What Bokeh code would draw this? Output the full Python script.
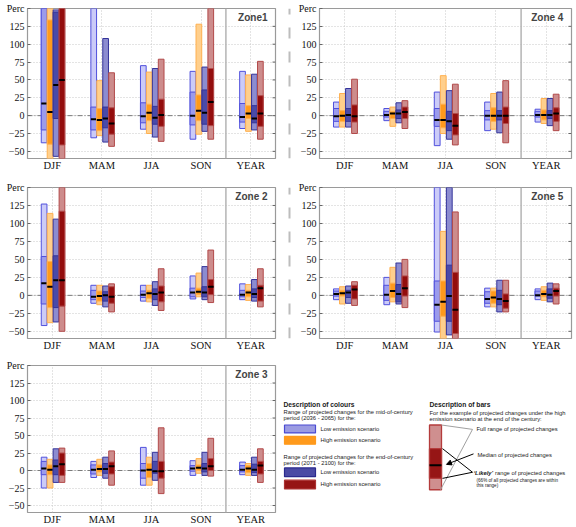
from bokeh.plotting import figure
from bokeh.layouts import column, row
from bokeh.models import Range1d, FixedTicker, Span, Label, Arrow, NormalHead
from bokeh.core.properties import value
from bokeh.embed import file_html
from bokeh.resources import INLINE

seasons = ["DJF", "MAM", "JJA", "SON", "YEAR"]
y_ticks = [-50, -25, 0, 25, 50, 75, 100, 125]
unit_tick = 150
unit_label = "Perc"
scenarios = ["mid-century low", "mid-century high", "end-century low", "end-century high"]

# Each list of lists: [mid low, mid high, end low, end high] x seasons
z1_full_max = [[180, 175, 70, 62, 62], [165, 49, 61, 128, 57], [148, 108, 66, 68, 58], [180, 60, 79, 175, 76]]
z1_full_min = [[-38, -31, -19, -33, -18], [-75, -28, -25, -26, -22], [-57, -37, -30, -22, -20], [-75, -43, -36, -33, -33]]
z1_lik_max = [[160, 12, 18, 33, 17], [134, 10, 16, 29, 14], [145, 12, 13, 36, 14], [170, 11, 23, 66, 28]]
z1_lik_min = [[-20, -20, -10, -13, -9], [-40, -21, -7, -7, -4], [-4, -17, -12, -12, -10], [-41, -26, -15, -14, -15]]
z1_median = [[17, -5, -1, 0, -2], [5, -6, 4, 7, 3], [43, -4, -3, 4, -4], [50, -11, 1, 19, 3]]

z4_full_max = [[19, 10, 33, 19, 9], [31, 12, 56, 31, 24], [38, 18, 35, 33, 24], [51, 21, 44, 49, 30]]
z4_full_min = [[-16, -7, -42, -21, -9], [-16, -15, -25, -19, -11], [-16, -10, -33, -24, -14], [-25, -18, -41, -38, -21]]
z4_lik_max = [[10, 6, 10, 7, 6], [7, 6, 16, 11, 8], [10, 8, 6, 7, 7], [15, 12, 3, 12, 11]]
z4_lik_min = [[-8, -2, -15, -6, -2], [-8, -4, -17, -8, -6], [-8, -4, -21, -6, -4], [-9, -4, -27, -11, -8]]
z4_median = [[-1, 1, -6, 0, 1], [0, 3, -6, 0, 1], [1, 3, -8, 0, 1], [-1, 5, -14, 0, 3]]

z2_full_max = [[127, 14, 14, 27, 16], [114, 14, 14, 31, 15], [106, 13, 19, 40, 22], [175, 16, 37, 63, 37]]
z2_full_min = [[-42, -11, -8, -5, -6], [-38, -13, -9, -2, -7], [-37, -16, -14, -6, -8], [-50, -23, -21, -10, -16]]
z2_lik_max = [[54, 7, 6, 10, 7], [47, 6, 7, 10, 7], [55, 5, 9, 12, 9], [117, 12, 13, 22, 14]]
z2_lik_min = [[-12, -6, -3, -2, -2], [-17, -8, -4, 1, -2], [-17, -8, -6, -2, -3], [-15, -11, -9, 1, -8]]
z2_median = [[17, -2, 1, 4, 1], [12, -1, 3, 5, 4], [21, 0, 2, 4, 2], [21, -2, 4, 12, 10]]

z5_full_max = [[9, 25, 175, 10, 9], [12, 39, 89, 10, 12], [13, 45, 175, 21, 17], [19, 50, 116, 21, 16]]
z5_full_min = [[-6, -13, -51, -16, -6], [-12, -9, -75, -16, -7], [-11, -12, -55, -23, -9], [-14, -17, -75, -23, -12]]
z5_lik_max = [[6, 14, 20, 5, 6], [7, 17, 20, 6, 7], [7, 15, 42, 7, 9], [14, 27, 32, 2, 10]]
z5_lik_min = [[-1, -7, -36, -11, -1], [-1, -3, -29, -11, -2], [-3, -9, -36, -13, -4], [-5, -1, -53, -18, -1]]
z5_median = [[2, 1, -13, -5, 0], [3, 6, -9, -3, 2], [4, 2, -1, -5, 1], [8, 10, -20, -8, 6]]

z3_full_max = [[19, 13, 33, 14, 12], [16, 16, 19, 17, 10], [31, 19, 26, 26, 19], [32, 28, 61, 46, 31]]
z3_full_min = [[-25, -10, -21, -7, -6], [-25, -7, -21, -4, -7], [-17, -11, -14, -7, -7], [-17, -21, -33, -8, -17]]
z3_lik_max = [[13, 8, 10, 7, 7], [8, 8, 10, 8, 7], [15, 10, 13, 10, 9], [25, 12, 13, 17, 13]]
z3_lik_min = [[-6, -5, -11, -1, -2], [-6, -2, -10, 0, -3], [-6, -4, -4, -2, -3], [-7, -5, -11, 0, -5]]
z3_median = [[3, 1, 0, 3, 1], [1, 2, 1, 4, 3], [6, 2, -1, 3, 1], [9, 6, -1, 6, 7]]

offsets = [-0.165, -0.045, 0.075, 0.195]
bar_w = 0.115
light = ["#cbcbf8", "#ffcf8c", "#8c8cd0", "#cd8c8c"]
dark = ["#9b9bec", "#ff9a1c", "#4a4aa8", "#930d0d"]
edge = ["#5050dc", "#ffb050", "#34349a", "#b24a4a"]
centers = [i + 0.5 for i in range(len(seasons))]

SERIF = "Liberation Serif"
SANS = "Liberation Sans"


def panel(name, fmin, fmax, lmin, lmax, med, width, height, bl, br, bt, bb):
    p = figure(width=width, height=height, title=None, x_range=Range1d(0, 5),
               y_range=Range1d(-60, 150), toolbar_location=None, output_backend="svg",
               min_border_left=bl, min_border_right=br, min_border_top=bt, min_border_bottom=bb)
    p.background_fill_color = "white"
    p.border_fill_color = "white"
    p.outline_line_color = "#9a9a9a"
    p.outline_line_width = 1.2

    p.xaxis.ticker = FixedTicker(ticks=centers)
    p.xaxis.major_label_overrides = {c: s for c, s in zip(centers, seasons)}
    p.xaxis.axis_line_color = None
    p.xaxis.major_tick_line_color = None
    p.xaxis.major_tick_out = 0
    p.xaxis.major_tick_in = 0
    p.xaxis.minor_tick_line_color = None
    p.xaxis.major_label_standoff = 1
    p.xaxis.major_label_text_font = SERIF
    p.xaxis.major_label_text_font_size = "10.5px"
    p.xaxis.major_label_text_color = "#111111"

    p.yaxis.ticker = FixedTicker(ticks=y_ticks + [unit_tick])
    p.yaxis.major_label_overrides = {unit_tick: unit_label}
    p.yaxis.axis_line_color = None
    p.yaxis.major_tick_in = 3
    p.yaxis.major_tick_out = 0
    p.yaxis.major_tick_line_color = "#666666"
    p.yaxis.minor_tick_line_color = None
    p.yaxis.major_label_standoff = 3
    p.yaxis.major_label_text_font = SERIF
    p.yaxis.major_label_text_font_size = "10px"
    p.yaxis.major_label_text_color = "#111111"

    p.xgrid.ticker = FixedTicker(ticks=centers)
    p.ygrid.ticker = FixedTicker(ticks=y_ticks)
    for g in (p.xgrid, p.ygrid):
        g.grid_line_color = "#c8c8c8"
        g.grid_line_dash = "1 2"
        g.grid_line_width = 1

    p.add_layout(Span(location=4, dimension="height", line_color="#b4b4b4",
                      line_width=1.5, level="underlay"))
    p.add_layout(Span(location=0, dimension="width", line_color="#7a7a7a",
                      line_width=1, line_dash="5 2 1 2", level="underlay"))

    # inward tick marks on the right-hand frame edge
    p.segment(x0=[4.94] * len(y_ticks), x1=[5.0] * len(y_ticks), y0=y_ticks, y1=y_ticks,
              line_color="#666666", line_width=1)

    for s in range(4):
        xs = [c + offsets[s] for c in centers]
        p.vbar(x=xs, width=bar_w, bottom=fmin[s], top=fmax[s], fill_color=light[s],
               line_color=edge[s], line_width=1)
        p.vbar(x=xs, width=bar_w, bottom=lmin[s], top=lmax[s], fill_color=dark[s],
               line_color=edge[s], line_width=1)
        p.segment(x0=[x - bar_w / 2 for x in xs], x1=[x + bar_w / 2 for x in xs],
                  y0=med[s], y1=med[s], line_color="black", line_width=2)

    p.add_layout(Label(x=4.84, y=144.5, text=name, text_font=SANS, text_font_size="10px",
                       text_font_style="bold", text_color="#444444", text_align="right",
                       text_baseline="top"))
    return p


def vsep(h):
    s = figure(width=6, height=h, x_range=Range1d(0, 1), y_range=Range1d(0, 1),
               toolbar_location=None, output_backend="svg", x_axis_type=None, y_axis_type=None,
               min_border=0, title=None)
    s.outline_line_color = None
    s.grid.visible = False
    s.segment(x0=[0.5], x1=[0.5], y0=[0], y1=[1], line_color="#bdbdbd", line_width=2,
              line_dash="11 13")
    return s


def hsep(w):
    s = figure(width=w, height=4, x_range=Range1d(0, 1), y_range=Range1d(0, 1),
               toolbar_location=None, output_backend="svg", x_axis_type=None, y_axis_type=None,
               min_border=0, title=None)
    s.outline_line_color = None
    s.grid.visible = False
    s.segment(x0=[0], x1=[1], y0=[0.5], y1=[0.5], line_color="#bdbdbd", line_width=2,
              line_dash="11 13")
    return s


f1 = panel("Zone1", z1_full_min, z1_full_max, z1_lik_min, z1_lik_max, z1_median, 286, 173, 27, 11, 8, 14)
f4 = panel("Zone 4", z4_full_min, z4_full_max, z4_lik_min, z4_lik_max, z4_median, 284, 173, 27, 5, 8, 14)
f2 = panel("Zone 2", z2_full_min, z2_full_max, z2_lik_min, z2_lik_max, z2_median, 286, 178, 27, 11, 10, 17)
f5 = panel("Zone 5", z5_full_min, z5_full_max, z5_lik_min, z5_lik_max, z5_median, 284, 178, 27, 5, 10, 17)
f3 = panel("Zone 3", z3_full_min, z3_full_max, z3_lik_min, z3_lik_max, z3_median, 282, 168, 27, 7, 6, 13)

# ---- legend panel ----
leg_w, leg_h = 294, 168
lg = figure(width=leg_w, height=leg_h, x_range=Range1d(0, leg_w), y_range=Range1d(leg_h, 0),
            toolbar_location=None, output_backend="svg", x_axis_type=None, y_axis_type=None,
            min_border=0, title=None)
lg.outline_line_color = None
lg.grid.visible = False

head_x = [1, 147]
head_y = [44, 44]
head_txt = ["Description of colours", "Description of bars"]
body_x = [1, 1, 38, 38, 1, 1, 38, 38, 147, 147, 194, 195, 212.5]
body_y = [53, 60, 72, 85, 104, 111, 122, 135, 54, 61, 73, 102, 123]
body_txt = ["Range of projected changes for the mid-of-century",
            "period (2036 - 2065) for the:",
            "Low emission scenario", "High emission scenario",
            "Range of projected changes for the end-of-century",
            "period (2071 - 2100) for the:",
            "Low emission scenario", "High emission scenario",
            "For the example of projected changes under the high",
            "emission scenario at the end of the century:",
            "Full range of projected changes",
            "Median of projected changes",
            "range of projected changes"]
note_x = [194, 194]
note_y = [131, 137]
note_txt = ["(66% of all projected changes are within", "this range)"]

lg.text(x=head_x, y=head_y, text=head_txt, text_font=value(SANS), text_font_size=value("6.7px"),
        text_font_style="bold", text_color="#1a1a1a", text_baseline="middle")
lg.text(x=body_x, y=body_y, text=body_txt, text_font=value(SANS), text_font_size=value("5.8px"),
        text_color="#1a1a1a", text_baseline="middle")
lg.text(x=[191], y=[123], text=["\u2018Likely\u2019"], text_font=value(SANS),
        text_font_size=value("5.8px"), text_font_style="bold italic", text_color="#1a1a1a",
        text_baseline="middle")
lg.text(x=note_x, y=note_y, text=note_txt, text_font=value(SANS), text_font_size=value("4.6px"),
        text_color="#1a1a1a", text_baseline="middle")

sw_y = [72.5, 85.5, 122, 136]
sw_h = [9, 9, 10, 10]
sw_fill = ["#9b9be2", "#ff9a1c", "#4a4aa4", "#961515"]
sw_line = ["#4a4ad2", "#ff9a1c", "#2a2a8e", "#ab3232"]
lg.rect(x=[17.5] * 4, y=sw_y, width=31, height=sw_h, fill_color=sw_fill, line_color=sw_line,
        line_width=1.2)

# example bar
lg.quad(left=[147], right=[159], top=[68], bottom=[142], fill_color="#cf8f8f",
        line_color="#b43c3c", line_width=1.3)
lg.quad(left=[147], right=[159], top=[95], bottom=[129], fill_color="#961515",
        line_color="#b43c3c", line_width=1.3)
lg.segment(x0=[147], x1=[159], y0=[114], y1=[114], line_color="black", line_width=2)
lg.segment(x0=[159, 158], x1=[190, 190], y0=[68, 142], y1=[73, 73], line_color="#a0a0a0",
           line_width=1)
lg.segment(x0=[160, 160], x1=[190, 190], y0=[95, 129], y1=[122, 122], line_color="black",
           line_width=1)
lg.add_layout(Arrow(end=NormalHead(size=5, fill_color="black", line_color="black"),
                    x_start=191, y_start=101, x_end=164, y_end=113, line_color="black",
                    line_width=1))

layout = column(row(f1, vsep(173), f4), hsep(576), row(f2, vsep(178), f5), hsep(576),
                row(f3, lg))

open("out.html", "w").write(file_html(layout, INLINE))
